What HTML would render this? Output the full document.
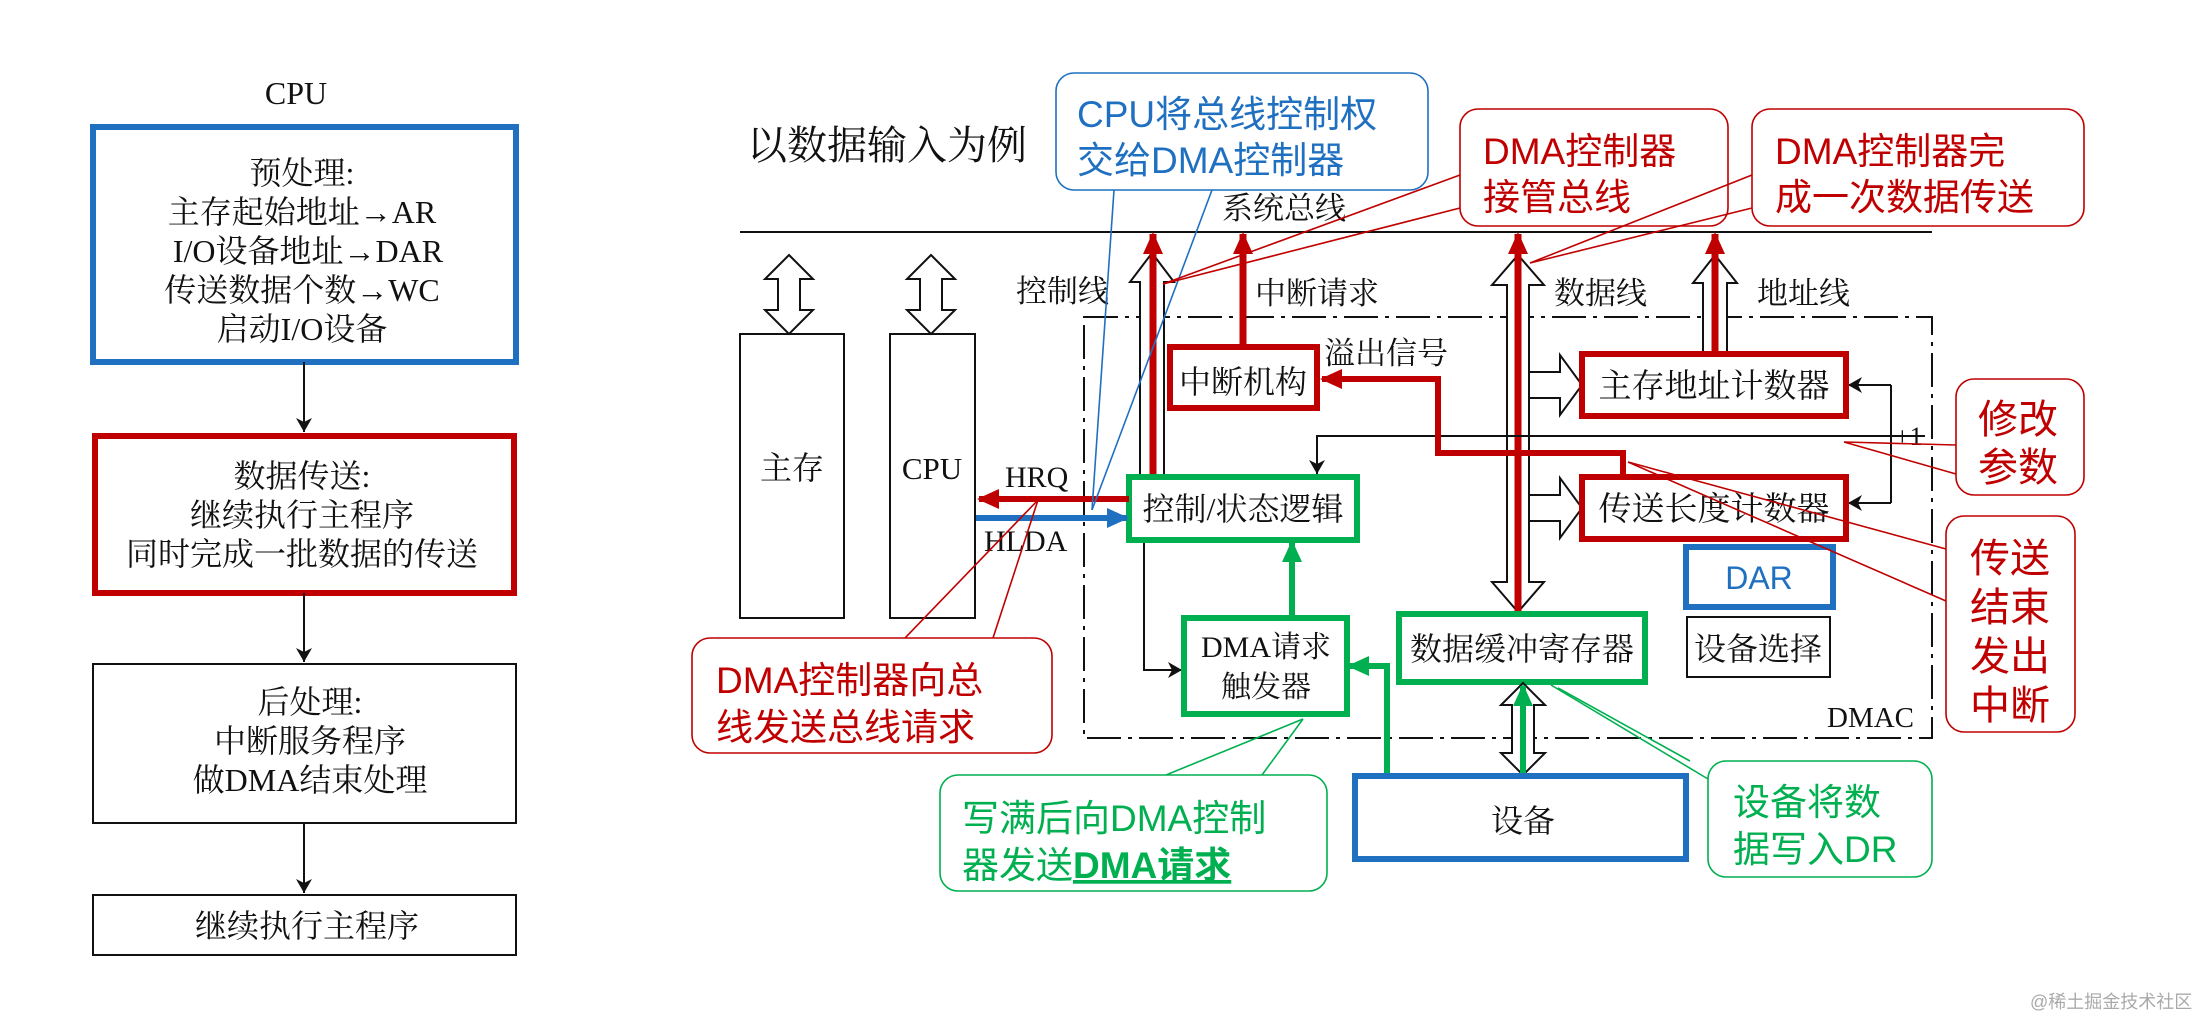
<!DOCTYPE html>
<html><head><meta charset="utf-8"><style>
html,body{margin:0;padding:0;background:#fff;}
svg{display:block;}
.s{font-family:"Liberation Serif","Noto Serif CJK SC",serif;fill:#111;}
.c{font-family:"Liberation Sans","Noto Sans CJK SC",sans-serif;}
</style></head><body>
<svg width="2196" height="1018" viewBox="0 0 2196 1018" xmlns="http://www.w3.org/2000/svg">
<defs>
<marker id="ab" markerUnits="userSpaceOnUse" markerWidth="14" markerHeight="16" refX="14" refY="8" orient="auto"><path d="M0,0 L14,8 L0,16 L4,8 z" fill="#111"/></marker>
<marker id="ar" markerUnits="userSpaceOnUse" markerWidth="22" markerHeight="20" refX="20" refY="10" orient="auto"><path d="M0,0 L22,10 L0,20 z" fill="#c00000"/></marker>
<marker id="abl" markerUnits="userSpaceOnUse" markerWidth="22" markerHeight="20" refX="20" refY="10" orient="auto"><path d="M0,0 L22,10 L0,20 z" fill="#1f70c1"/></marker>
<marker id="ag" markerUnits="userSpaceOnUse" markerWidth="22" markerHeight="20" refX="20" refY="10" orient="auto"><path d="M0,0 L22,10 L0,20 z" fill="#00b050"/></marker>
</defs>

<!-- LEFT FLOWCHART -->
<text class="s" x="296" y="104" font-size="32" text-anchor="middle">CPU</text>
<rect x="93" y="127" width="423" height="235" fill="none" stroke="#1f70c1" stroke-width="6"/>
<g class="s" font-size="32" text-anchor="middle">
<text x="302" y="184">预处理:</text>
<text x="302" y="223">主存起始地址→AR</text>
<text x="308" y="262">I/O设备地址→DAR</text>
<text x="302" y="301">传送数据个数→WC</text>
<text x="302" y="340">启动I/O设备</text>
</g>
<line x1="304" y1="362" x2="304" y2="432" stroke="#111" stroke-width="2" marker-end="url(#ab)"/>
<rect x="95" y="436" width="419" height="157" fill="none" stroke="#c00000" stroke-width="6"/>
<g class="s" font-size="32" text-anchor="middle">
<text x="302" y="487">数据传送:</text>
<text x="302" y="526">继续执行主程序</text>
<text x="302" y="565">同时完成一批数据的传送</text>
</g>
<line x1="304" y1="593" x2="304" y2="662" stroke="#111" stroke-width="2" marker-end="url(#ab)"/>
<rect x="93" y="664" width="423" height="159" fill="none" stroke="#111" stroke-width="2"/>
<g class="s" font-size="32" text-anchor="middle">
<text x="310" y="713">后处理:</text>
<text x="310" y="752">中断服务程序</text>
<text x="310" y="791">做DMA结束处理</text>
</g>
<line x1="304" y1="823" x2="304" y2="893" stroke="#111" stroke-width="2" marker-end="url(#ab)"/>
<rect x="93" y="895" width="423" height="60" fill="none" stroke="#111" stroke-width="2"/>
<text class="s" x="307" y="937" font-size="32" text-anchor="middle">继续执行主程序</text>

<!-- DIAGRAM -->
<text class="s" x="747" y="159" font-size="40">以数据输入为例</text>
<line x1="740" y1="232" x2="1932" y2="232" stroke="#111" stroke-width="2"/>
<text class="s" x="1222" y="219" font-size="31">系统总线</text>

<rect x="1084" y="317" width="848" height="421" fill="none" stroke="#111" stroke-width="2" stroke-dasharray="34 7 4 7"/>
<text class="s" x="1827" y="727" font-size="29">DMAC</text>

<rect x="740" y="334" width="104" height="284" fill="#fff" stroke="#111" stroke-width="2"/>
<text class="s" x="792" y="479" font-size="32" text-anchor="middle">主存</text>
<rect x="890" y="334" width="85" height="284" fill="#fff" stroke="#111" stroke-width="2"/>
<text class="s" x="932" y="479" font-size="31" text-anchor="middle">CPU</text>
<polygon points="789,255 813,279 800,279 800,310 813,310 789,334 765,310 778,310 778,279 765,279" fill="#fff" stroke="#111" stroke-width="2"/>
<polygon points="931,255 955,279 942,279 942,310 955,310 931,334 907,310 920,310 920,279 907,279" fill="#fff" stroke="#111" stroke-width="2"/>

<polygon points="1152,253 1174,282 1164,282 1164,477 1140,477 1140,282 1130,282" fill="#fff" stroke="#111" stroke-width="2"/>
<line x1="1153" y1="477" x2="1153" y2="234" stroke="#c00000" stroke-width="7" marker-end="url(#ar)"/>
<text class="s" x="1016" y="302" font-size="31">控制线</text>

<line x1="1243" y1="347" x2="1243" y2="234" stroke="#c00000" stroke-width="7" marker-end="url(#ar)"/>
<text class="s" x="1255" y="304" font-size="31">中断请求</text>
<rect x="1170" y="347" width="147" height="61" fill="#fff" stroke="#c00000" stroke-width="6"/>
<text class="s" x="1243" y="393" font-size="32" text-anchor="middle">中断机构</text>
<text class="s" x="1324" y="364" font-size="31">溢出信号</text>

<polygon points="1518,255 1544,285 1529,285 1529,582 1544,582 1518,612 1492,582 1507,582 1507,285 1492,285" fill="#fff" stroke="#111" stroke-width="2"/>
<line x1="1518" y1="614" x2="1518" y2="234" stroke="#c00000" stroke-width="7" marker-end="url(#ar)"/>
<text class="s" x="1554" y="304" font-size="31">数据线</text>

<polygon points="1715,255 1737,283 1727,283 1727,354 1703,354 1703,283 1693,283" fill="#fff" stroke="#111" stroke-width="2"/>
<line x1="1715" y1="354" x2="1715" y2="234" stroke="#c00000" stroke-width="7" marker-end="url(#ar)"/>
<text class="s" x="1757" y="304" font-size="31">地址线</text>

<polygon points="1529,372 1560,372 1560,355 1582,385 1560,415 1560,398 1529,398" fill="#fff" stroke="#111" stroke-width="2"/>
<polygon points="1529,495 1560,495 1560,478 1582,508 1560,538 1560,521 1529,521" fill="#fff" stroke="#111" stroke-width="2"/>

<polyline points="1925,436 1317,436 1317,474" fill="none" stroke="#111" stroke-width="2" marker-end="url(#ab)"/>
<line x1="1891" y1="385" x2="1891" y2="503" stroke="#111" stroke-width="2"/>
<line x1="1891" y1="385" x2="1848" y2="385" stroke="#111" stroke-width="2" marker-end="url(#ab)"/>
<line x1="1891" y1="503" x2="1848" y2="503" stroke="#111" stroke-width="2" marker-end="url(#ab)"/>
<text class="s" x="1895" y="445" font-size="26">+1</text>

<rect x="1582" y="354" width="264" height="62" fill="#fff" stroke="#c00000" stroke-width="6"/>
<text class="s" x="1714" y="397" font-size="33" text-anchor="middle">主存地址计数器</text>
<rect x="1582" y="477" width="264" height="62" fill="#fff" stroke="#c00000" stroke-width="6"/>
<text class="s" x="1714" y="520" font-size="33" text-anchor="middle">传送长度计数器</text>

<polyline points="1623,477 1623,453 1438,453 1438,379 1322,379" fill="none" stroke="#c00000" stroke-width="6" marker-end="url(#ar)"/>

<polyline points="1144,541 1144,670 1182,670" fill="none" stroke="#111" stroke-width="2" marker-end="url(#ab)"/>
<rect x="1129" y="477" width="228" height="63" fill="#fff" stroke="#00b050" stroke-width="6"/>
<text class="s" x="1243" y="520" font-size="32" text-anchor="middle">控制/状态逻辑</text>

<line x1="1129" y1="499" x2="979" y2="499" stroke="#c00000" stroke-width="6" marker-end="url(#ar)"/>
<line x1="976" y1="518" x2="1127" y2="518" stroke="#1f70c1" stroke-width="6" marker-end="url(#abl)"/>
<text class="s" x="1005" y="487" font-size="30">HRQ</text>
<text class="s" x="984" y="551" font-size="30">HLDA</text>

<line x1="1292" y1="618" x2="1292" y2="542" stroke="#00b050" stroke-width="6" marker-end="url(#ag)"/>
<rect x="1184" y="618" width="163" height="96" fill="#fff" stroke="#00b050" stroke-width="6"/>
<text class="s" x="1266" y="657" font-size="30" text-anchor="middle">DMA请求</text>
<text class="s" x="1266" y="697" font-size="30" text-anchor="middle">触发器</text>
<polyline points="1387,776 1387,666 1349,666" fill="none" stroke="#00b050" stroke-width="6" marker-end="url(#ag)"/>

<rect x="1399" y="614" width="246" height="68" fill="#fff" stroke="#00b050" stroke-width="6"/>
<text class="s" x="1522" y="660" font-size="32" text-anchor="middle">数据缓冲寄存器</text>
<polygon points="1523,683 1545,705 1534,705 1534,753 1545,753 1523,775 1501,753 1512,753 1512,705 1501,705" fill="#fff" stroke="#111" stroke-width="2"/>
<line x1="1523" y1="776" x2="1523" y2="686" stroke="#00b050" stroke-width="6" marker-end="url(#ag)"/>

<rect x="1355" y="776" width="331" height="83" fill="#fff" stroke="#1f70c1" stroke-width="6"/>
<text class="s" x="1523" y="832" font-size="32" text-anchor="middle">设备</text>
<rect x="1686" y="547" width="147" height="60" fill="#fff" stroke="#1f70c1" stroke-width="6"/>
<text class="c" x="1759" y="589" font-size="32" fill="#1f70c1" text-anchor="middle">DAR</text>
<rect x="1687" y="617" width="143" height="60" fill="#fff" stroke="#111" stroke-width="2"/>
<text class="s" x="1758" y="660" font-size="32" text-anchor="middle">设备选择</text>

<g fill="none" stroke-width="1.6">
<rect x="1056" y="73" width="372" height="117" rx="18" fill="#fff" stroke="#1f70c1"/>
<line x1="1114" y1="190" x2="1092" y2="510" stroke="#1f70c1"/>
<line x1="1212" y1="190" x2="1092" y2="510" stroke="#1f70c1"/>
<rect x="1460" y="109" width="268" height="117" rx="18" fill="#fff" stroke="#c00000"/>
<line x1="1460" y1="175" x2="1163" y2="284" stroke="#c00000"/>
<line x1="1460" y1="208" x2="1163" y2="284" stroke="#c00000"/>
<rect x="1752" y="109" width="332" height="117" rx="18" fill="#fff" stroke="#c00000"/>
<line x1="1752" y1="175" x2="1530" y2="263" stroke="#c00000"/>
<line x1="1752" y1="208" x2="1530" y2="263" stroke="#c00000"/>
<rect x="692" y="638" width="360" height="115" rx="18" fill="#fff" stroke="#c00000"/>
<line x1="905" y1="638" x2="1038" y2="500" stroke="#c00000"/>
<line x1="993" y1="638" x2="1038" y2="500" stroke="#c00000"/>
<rect x="940" y="775" width="387" height="116" rx="18" fill="#fff" stroke="#00b050"/>
<line x1="1166" y1="775" x2="1303" y2="719" stroke="#00b050"/>
<line x1="1262" y1="775" x2="1303" y2="719" stroke="#00b050"/>
<rect x="1708" y="761" width="224" height="116" rx="18" fill="#fff" stroke="#00b050"/>
<line x1="1551" y1="685" x2="1708" y2="779" stroke="#00b050"/>
<line x1="1558" y1="688" x2="1690" y2="761" stroke="#00b050"/>
<rect x="1956" y="379" width="128" height="116" rx="18" fill="#fff" stroke="#c00000"/>
<line x1="1956" y1="445" x2="1844" y2="442" stroke="#c00000"/>
<line x1="1956" y1="474" x2="1844" y2="442" stroke="#c00000"/>
<rect x="1946" y="516" width="129" height="216" rx="18" fill="#fff" stroke="#c00000"/>
<line x1="1946" y1="549" x2="1628" y2="462" stroke="#c00000"/>
<line x1="1946" y1="601" x2="1628" y2="462" stroke="#c00000"/>
</g>

<g class="c" font-size="37">
<text x="1077" y="127" fill="#1f70c1">CPU将总线控制权</text>
<text x="1077" y="173" fill="#1f70c1">交给DMA控制器</text>
<text x="1483" y="164" fill="#c00000">DMA控制器</text>
<text x="1483" y="210" fill="#c00000">接管总线</text>
<text x="1775" y="164" fill="#c00000">DMA控制器完</text>
<text x="1775" y="210" fill="#c00000">成一次数据传送</text>
<text x="716" y="693" fill="#c00000">DMA控制器向总</text>
<text x="716" y="740" fill="#c00000">线发送总线请求</text>
<text x="962" y="831" fill="#00b050">写满后向DMA控制</text>
<text x="962" y="878" fill="#00b050">器发送<tspan font-weight="bold" text-decoration="underline">DMA请求</tspan></text>
<text x="1733" y="815" fill="#00b050">设备将数</text>
<text x="1733" y="862" fill="#00b050">据写入DR</text>
</g>
<g class="c" font-size="40" fill="#c00000">
<text x="1978" y="433">修改</text>
<text x="1978" y="481">参数</text>
<text x="1970" y="572">传送</text>
<text x="1970" y="621">结束</text>
<text x="1970" y="670">发出</text>
<text x="1970" y="719">中断</text>
</g>

<text class="c" x="2030" y="1008" font-size="18" fill="#aaa">@稀土掘金技术社区</text>
</svg>
</body></html>
